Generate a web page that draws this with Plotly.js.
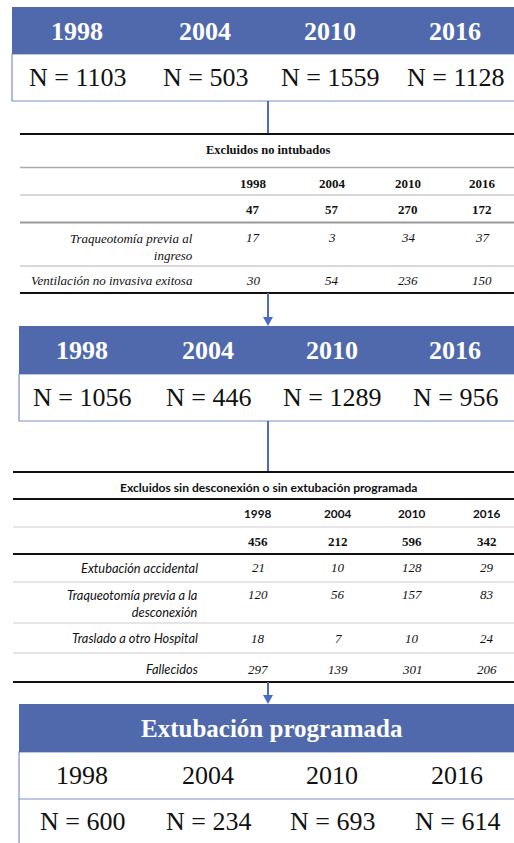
<!DOCTYPE html>
<html>
<head>
<meta charset="utf-8">
<script src="https://cdn.plot.ly/plotly-3.0.1.min.js"></script>
<style>
  html, body { margin: 0; padding: 0; background: #fff; }
  #chart { width: 514px; height: 843px; }
</style>
</head>
<body>
<div id="chart"></div>
<script>
/* ---- Datos del diagrama de flujo ---- */
var years = ['1998', '2004', '2010', '2016'];
var nInicial = [1103, 503, 1559, 1128];
var excl1Total = [47, 57, 270, 172];
var excl1Traqueo = [17, 3, 34, 37];
var excl1Vni = [30, 54, 236, 150];
var nIntubados = [1056, 446, 1289, 956];
var excl2Total = [456, 212, 596, 342];
var excl2Accidental = [21, 10, 128, 29];
var excl2Traqueo = [120, 56, 157, 83];
var excl2Traslado = [18, 7, 10, 24];
var excl2Fallecidos = [297, 139, 301, 206];
var nFinal = [600, 234, 693, 614];

var excl1Title = 'Excluidos no intubados';
var excl1Labels = ['Traqueotomía previa al<br>ingreso', 'Ventilación no invasiva exitosa'];
var excl2Title = 'Excluidos sin desconexión o sin extubación programada';
var excl2Labels = ['Extubación accidental', 'Traqueotomía previa a la<br>desconexión',
                   'Traslado a otro Hospital', 'Fallecidos'];
var finalTitle = 'Extubación programada';

/* ---- Estilos ---- */
var BLUE = '#5069ad';
var LINK = '#4a6cc4';
var BORDER = '#7b8fca';
var SERIF = 'Liberation Serif';
var SANS = 'Lato';

var shapes = [];
var annotations = [];

function txt(x, y, text, opts) {
  opts = opts || {};
  annotations.push({
    x: x, y: y, xref: 'x', yref: 'y', text: text, showarrow: false,
    xanchor: opts.xanchor || 'center', yanchor: opts.yanchor || 'middle',
    align: opts.align || 'center',
    font: { family: opts.family || SERIF, size: opts.size || 13, color: opts.color || '#111' }
  });
}

function rect(x0, y0, x1, y1, fill, lineColor, lineWidth) {
  shapes.push({ type: 'rect', xref: 'x', yref: 'y', x0: x0, y0: y0, x1: x1, y1: y1,
    fillcolor: fill, line: { color: lineColor || fill, width: lineWidth || 0 }, layer: 'below' });
}

function hline(y, x0, x1, color, width) {
  shapes.push({ type: 'line', xref: 'x', yref: 'y', x0: x0, x1: x1, y0: y, y1: y,
    line: { color: color, width: width } });
}

function vline(x, y0, y1) {
  shapes.push({ type: 'line', xref: 'x', yref: 'y', x0: x, x1: x, y0: y0, y1: y1,
    line: { color: LINK, width: 2 } });
}

function arrowHead(x, yTip) {
  shapes.push({ type: 'path', xref: 'x', yref: 'y',
    path: 'M ' + (x - 5) + ' ' + (yTip - 9) + ' L ' + (x + 5) + ' ' + (yTip - 9) + ' L ' + x + ' ' + yTip + ' Z',
    fillcolor: LINK, line: { color: LINK, width: 0 } });
}

function fmtN(v) { return 'N = ' + v; }

/* ---- Caja 1: población inicial ---- */
var box1X = [77, 205, 330, 455];
rect(12, 101, 540, 54, '#fff', BORDER, 1.2);
rect(12, 7, 540, 54, BLUE);
years.forEach(function(y, i) {
  txt(box1X[i], 31, '<b>' + y + '</b>', { size: 26, color: '#fff' });
  txt(box1X[i], 77, fmtN(nInicial[i]), { size: 26 });
});

/* ---- Tabla 1: excluidos no intubados ---- */
var tab1X = [253, 332, 408, 482];
vline(268, 101, 134);
hline(134, 20, 514, '#111', 2);
hline(167.5, 20, 514, '#aaa', 1.5);
hline(195, 20, 514, '#ccc', 1.5);
hline(222.5, 20, 514, '#999', 2);
hline(266, 20, 514, '#ccc', 1.5);
hline(293, 20, 514, '#111', 2);
txt(268, 150, '<b>' + excl1Title + '</b>', { size: 12.5 });
years.forEach(function(y, i) {
  txt(tab1X[i], 183, '<b>' + y + '</b>', { size: 13 });
  txt(tab1X[i], 209.5, '<b>' + excl1Total[i] + '</b>', { size: 13 });
  txt(tab1X[i], 237, '<i>' + excl1Traqueo[i] + '</i>', { size: 13 });
  txt(tab1X[i], 280.5, '<i>' + excl1Vni[i] + '</i>', { size: 13 });
});
txt(195, 228.5, '<i>' + excl1Labels[0] + '</i>', { size: 13, xanchor: 'right', yanchor: 'top', align: 'right' });
txt(195, 280.5, '<i>' + excl1Labels[1] + '</i>', { size: 13, xanchor: 'right', align: 'right' });

/* ---- Caja 2: pacientes intubados ---- */
var box2X = [82, 208, 332, 455];
vline(268, 293, 318);
arrowHead(268, 326);
rect(19, 421, 540, 374, '#fff', BORDER, 1.2);
rect(19, 326, 540, 374, BLUE);
years.forEach(function(y, i) {
  txt(box2X[i], 350, '<b>' + y + '</b>', { size: 26, color: '#fff' });
  txt(box2X[i], 397, fmtN(nIntubados[i]), { size: 26 });
});

/* ---- Tabla 2: excluidos sin desconexión ---- */
var tab2X = [258, 338, 412, 487];
vline(268, 421, 472);
hline(472, 13, 514, '#111', 2);
hline(499, 13, 514, '#111', 2);
hline(527, 13, 514, '#ddd', 1.5);
hline(554, 13, 514, '#111', 2);
hline(582, 13, 514, '#ddd', 1.5);
hline(623, 13, 514, '#ddd', 1.5);
hline(653, 13, 514, '#ddd', 1.5);
hline(682, 13, 514, '#111', 2);
txt(268, 487, '<b>' + excl2Title + '</b>', { size: 12.1, family: SANS });
var tab2Rows = [excl2Accidental, excl2Traqueo, excl2Traslado, excl2Fallecidos];
var tab2RowY = [567.5, 594, 638, 669];
years.forEach(function(y, i) {
  txt(tab2X[i], 513, '<b>' + y + '</b>', { size: 11.8, family: SANS });
  txt(tab2X[i], 541, '<b>' + excl2Total[i] + '</b>', { size: 13 });
  tab2Rows.forEach(function(row, r) {
    txt(tab2X[i], tab2RowY[r], '<i>' + row[i] + '</i>', { size: 13 });
  });
});
excl2Labels.forEach(function(lab, r) {
  if (r === 1) {
    txt(200, 585, '<i>' + lab + '</i>', { size: 12.8, family: SANS, xanchor: 'right', yanchor: 'top', align: 'right' });
  } else {
    txt(200, tab2RowY[r], '<i>' + lab + '</i>', { size: 12.8, family: SANS, xanchor: 'right', align: 'right' });
  }
});

/* ---- Caja 3: extubación programada ---- */
var box3X = [82, 208, 332, 457];
vline(268, 682, 696);
arrowHead(268, 704);
rect(19, 752, 540, 860, '#fff', BORDER, 1.2);
hline(799, 19, 514, BORDER, 1.2);
rect(19, 704, 540, 752, BLUE);
txt(272, 728, '<b>' + finalTitle + '</b>', { size: 25, color: '#fff' });
years.forEach(function(y, i) {
  txt(box3X[i], 775, y, { size: 26 });
  txt(box3X[i], 821, fmtN(nFinal[i]), { size: 26 });
});

Plotly.newPlot('chart', [], {
  width: 514, height: 843,
  margin: { l: 0, r: 0, t: 0, b: 0 },
  paper_bgcolor: '#fff', plot_bgcolor: '#fff',
  xaxis: { range: [0, 514], visible: false, fixedrange: true },
  yaxis: { range: [843, 0], visible: false, fixedrange: true },
  showlegend: false,
  shapes: shapes,
  annotations: annotations
}, { displayModeBar: false, staticPlot: true });
</script>
</body>
</html>
